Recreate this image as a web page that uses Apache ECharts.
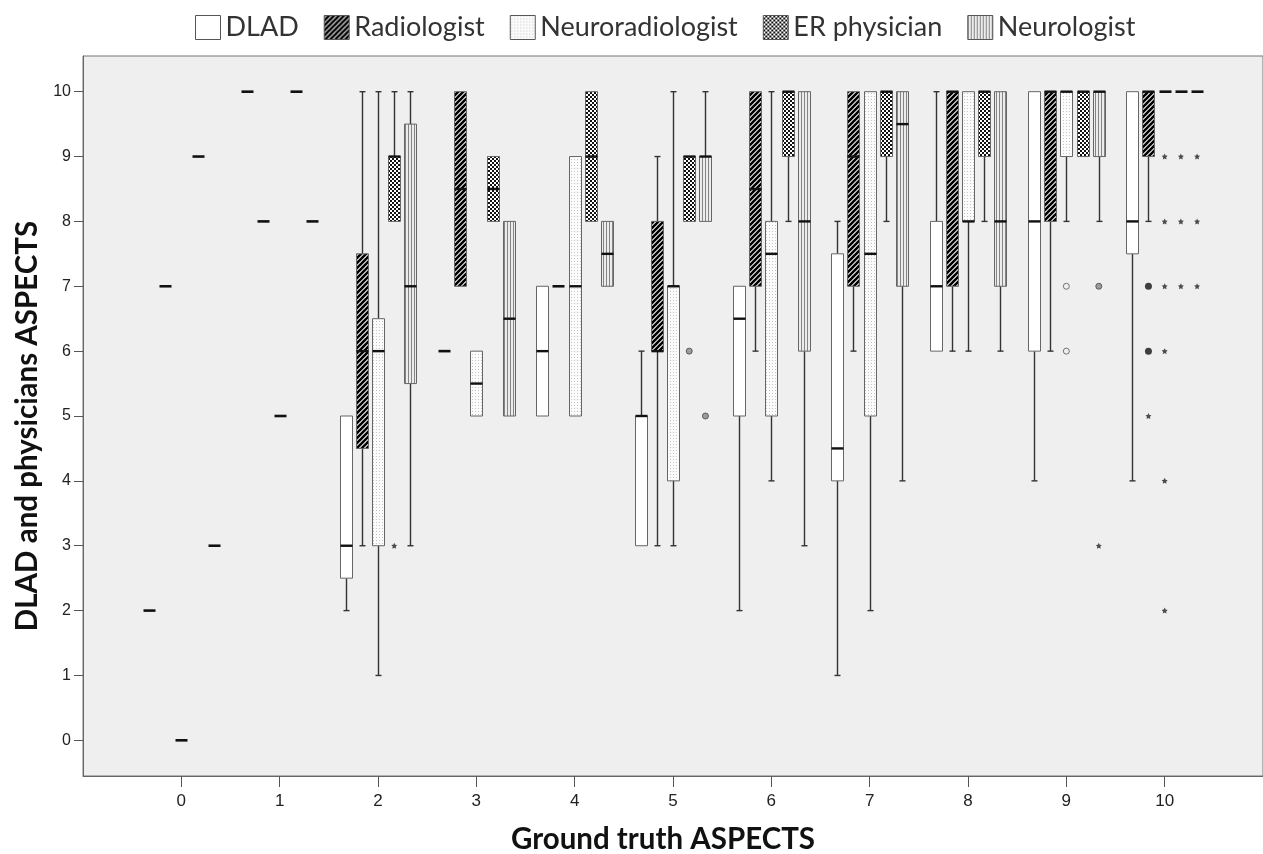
<!DOCTYPE html>
<html><head><meta charset="utf-8">
<script src="https://cdn.jsdelivr.net/npm/echarts@6/dist/echarts.min.js"></script>
<style>html,body{margin:0;padding:0;background:#fff}#chart{width:1263px;height:854px}</style>
</head><body><div id="chart"></div>
<script>
// Ground-truth ASPECTS categories (x axis)
const categories = [0, 1, 2, 3, 4, 5, 6, 7, 8, 9, 10];
const yTicks = [0, 1, 2, 3, 4, 5, 6, 7, 8, 9, 10];
const raters = ['DLAD', 'Radiologist', 'Neuroradiologist', 'ER physician', 'Neurologist'];

// [min, q1, median, q3, max] for each ground-truth category
const dlad = [
  [2, 2, 2, 2, 2], [10, 10, 10, 10, 10], [2, 2.5, 3, 5, 5], [6, 6, 6, 6, 6],
  [5, 5, 6, 7, 7], [3, 3, 5, 5, 6], [2, 5, 6.5, 7, 7], [1, 4, 4.5, 7.5, 8],
  [6, 6, 7, 8, 10], [4, 6, 8, 10, 10], [4, 7.5, 8, 10, 10]
];
const radiologist = [
  [7, 7, 7, 7, 7], [8, 8, 8, 8, 8], [3, 4.5, 6, 7.5, 10], [7, 7, 8.5, 10, 10],
  [7, 7, 7, 7, 7], [3, 6, 6, 8, 9], [6, 7, 8.5, 10, 10], [6, 7, 9, 10, 10],
  [6, 7, 10, 10, 10], [6, 8, 10, 10, 10], [8, 9, 10, 10, 10]
];
const neuroradiologist = [
  [0, 0, 0, 0, 0], [5, 5, 5, 5, 5], [1, 3, 6, 6.5, 10], [5, 5, 5.5, 6, 6],
  [5, 5, 7, 9, 9], [3, 4, 7, 7, 10], [4, 5, 7.5, 8, 10], [2, 5, 7.5, 10, 10],
  [6, 8, 8, 10, 10], [8, 9, 10, 10, 10], [10, 10, 10, 10, 10]
];
const erPhysician = [
  [9, 9, 9, 9, 9], [10, 10, 10, 10, 10], [8, 8, 9, 9, 10], [8, 8, 8.5, 9, 9],
  [8, 8, 9, 10, 10], [8, 8, 9, 9, 9], [8, 9, 10, 10, 10], [8, 9, 10, 10, 10],
  [8, 9, 10, 10, 10], [9, 9, 10, 10, 10], [10, 10, 10, 10, 10]
];
const neurologist = [
  [3, 3, 3, 3, 3], [8, 8, 8, 8, 8], [3, 5.5, 7, 9.5, 10], [5, 5, 6.5, 8, 8],
  [7, 7, 7.5, 8, 8], [8, 8, 9, 9, 10], [3, 6, 8, 10, 10], [4, 7, 9.5, 10, 10],
  [6, 7, 8, 10, 10], [8, 9, 10, 10, 10], [10, 10, 10, 10, 10]
];
const boxData = [dlad, radiologist, neuroradiologist, erPhysician, neurologist];

// outliers: [rater index, category, value]
const outlierOpen = [[2, 9, 7], [2, 9, 6]];
const outlierDot = [[3, 5, 6], [4, 5, 5], [4, 9, 7]];
const outlierFilled = [[1, 10, 7], [1, 10, 6]];
const outlierStar = [
  [3, 2, 3], [4, 9, 3], [1, 10, 5],
  [2, 10, 9], [2, 10, 8], [2, 10, 7], [2, 10, 6], [2, 10, 4], [2, 10, 2],
  [3, 10, 9], [3, 10, 8], [3, 10, 7],
  [4, 10, 9], [4, 10, 8], [4, 10, 7]
];

// ---- styling ----
const OFFSETS = [-0.33, -0.165, 0, 0.165, 0.33];
const HALF_W = 6;
function makePattern(w, h, draw) {
  const c = document.createElement('canvas');
  c.width = w; c.height = h;
  draw(c.getContext('2d'));
  return { image: c, repeat: 'repeat' };
}
const fills = [
  '#ffffff',
  makePattern(5, 5, g => {
    g.fillStyle = '#fff'; g.fillRect(0, 0, 5, 5);
    g.strokeStyle = '#000'; g.lineWidth = 2.6; g.beginPath();
    g.moveTo(-1, 6); g.lineTo(6, -1);
    g.moveTo(-1, 1); g.lineTo(1, -1);
    g.moveTo(4, 6); g.lineTo(6, 4);
    g.stroke();
  }),
  makePattern(3, 3, g => {
    g.fillStyle = '#fbfbfb'; g.fillRect(0, 0, 3, 3);
    g.fillStyle = '#c4c4c4'; g.fillRect(1, 0, 1, 1);
  }),
  makePattern(4, 4, g => {
    g.fillStyle = '#111'; g.fillRect(0, 0, 4, 4);
    g.fillStyle = '#fff'; g.fillRect(0, 0, 2, 2); g.fillRect(2, 2, 2, 2);
  }),
  makePattern(3, 1, g => {
    g.fillStyle = '#ececec'; g.fillRect(0, 0, 3, 1);
    g.fillStyle = '#858585'; g.fillRect(0, 0, 1, 1);
  })
];

function renderBox(params, api) {
  const si = params.seriesIndex;
  const cat = api.value(0);
  const mn = api.value(1), q1 = api.value(2), md = api.value(3), q3 = api.value(4), mx = api.value(5);
  const cx = Math.round(api.coord([cat + OFFSETS[si], 0])[0]) + 0.5;
  const Y = v => api.coord([cat, v])[1];
  const ch = [];
  if (mn === mx) {
    ch.push({ type: 'line', shape: { x1: cx - HALF_W, y1: Y(md), x2: cx + HALF_W, y2: Y(md) },
      style: { stroke: '#111', lineWidth: 2.6 } });
    return { type: 'group', children: ch };
  }
  const ws = { stroke: '#333', lineWidth: 1.4 };
  if (mx > q3) {
    ch.push({ type: 'line', shape: { x1: cx, y1: Y(q3), x2: cx, y2: Y(mx) }, style: ws });
    ch.push({ type: 'line', shape: { x1: cx - 3, y1: Y(mx), x2: cx + 3, y2: Y(mx) }, style: ws });
  }
  if (mn < q1) {
    ch.push({ type: 'line', shape: { x1: cx, y1: Y(q1), x2: cx, y2: Y(mn) }, style: ws });
    ch.push({ type: 'line', shape: { x1: cx - 3, y1: Y(mn), x2: cx + 3, y2: Y(mn) }, style: ws });
  }
  ch.push({ type: 'rect', shape: { x: cx - HALF_W, y: Y(q3), width: HALF_W * 2, height: Y(q1) - Y(q3) },
    style: { fill: fills[si], stroke: '#666', lineWidth: 1 } });
  ch.push({ type: 'line', shape: { x1: cx - HALF_W, y1: Y(md), x2: cx + HALF_W, y2: Y(md) },
    style: { stroke: '#111', lineWidth: 2.4 } });
  return { type: 'group', children: ch };
}

const series = raters.map((name, i) => ({
  name, type: 'custom', renderItem: renderBox,
  dimensions: ['cat', 'min', 'q1', 'median', 'q3', 'max'],
  encode: { x: 0, y: [1, 2, 3, 4, 5] },
  itemStyle: { color: fills[i] },
  data: boxData[i].map((r, k) => [categories[k]].concat(r)),
  z: 2, silent: true
}));
const toXY = arr => arr.map(d => [d[1] + OFFSETS[d[0]], d[2]]);
series.push({ name: 'o-open', type: 'scatter', symbol: 'circle', symbolSize: 6,
  itemStyle: { color: 'rgba(0,0,0,0)', borderColor: '#555', borderWidth: 1 }, data: toXY(outlierOpen), z: 5, silent: true });
series.push({ name: 'o-dot', type: 'scatter', symbol: 'circle', symbolSize: 6,
  itemStyle: { color: '#888', borderColor: '#444', borderWidth: 1 }, data: toXY(outlierDot), z: 5, silent: true });
series.push({ name: 'o-filled', type: 'scatter', symbol: 'circle', symbolSize: 7,
  itemStyle: { color: '#111' }, data: toXY(outlierFilled), z: 5, silent: true });
series.push({ name: 'o-star', type: 'scatter',
  symbol: 'path://M0,-10L2.9,-4L9.5,-3L4.7,1.5L5.9,8.1L0,5L-5.9,8.1L-4.7,1.5L-9.5,-3L-2.9,-4Z',
  symbolSize: 6, itemStyle: { color: '#222' }, data: toXY(outlierStar), z: 5, silent: true });

const chart = echarts.init(document.getElementById('chart'), null, { renderer: 'canvas' });
chart.setOption({
  animation: false,
  backgroundColor: '#fff',
  legend: {
    top: 9, left: 190, itemWidth: 25, itemHeight: 24, itemGap: 25, icon: 'rect',
    selectedMode: false,
    textStyle: { fontFamily: 'Lato', fontSize: 27, color: '#333' },
    data: raters.map((n, i) => ({ name: n, itemStyle: { color: fills[i], borderColor: '#555', borderWidth: 1 } }))
  },
  grid: { left: 83, right: 0, top: 56, bottom: 78, containLabel: false, outerBoundsMode: 'none',
    show: true, backgroundColor: '#efefef', borderColor: '#777', borderWidth: 1 },
  xAxis: {
    type: 'value', min: -1, max: 11,
    name: 'Ground truth ASPECTS', nameLocation: 'middle', nameGap: 48,
    nameTextStyle: { fontFamily: 'Lato', fontWeight: 'bold', fontSize: 29.5, color: '#111', padding: [0, 20, 0, 0] },
    axisLine: { show: true, onZero: false, lineStyle: { color: '#666' } },
    axisTick: { show: true, inside: false, length: 11, customValues: categories, lineStyle: { color: '#555' } },
    axisLabel: { customValues: categories, margin: 17, fontFamily: 'Liberation Sans', fontSize: 17, color: '#222' },
    splitLine: { show: false }
  },
  yAxis: {
    type: 'value', min: -0.55, max: 10.55,
    name: 'DLAD and physicians ASPECTS', nameLocation: 'middle', nameGap: 39, nameRotate: 90,
    nameTextStyle: { fontFamily: 'Lato', fontWeight: 'bold', fontSize: 29.5, color: '#111', padding: [0, 20, 0, 0] },
    axisLine: { show: true, onZero: false, lineStyle: { color: '#666' } },
    axisTick: { show: true, inside: false, length: 9, customValues: yTicks, lineStyle: { color: '#555' } },
    axisLabel: { customValues: yTicks, margin: 12, fontFamily: 'Liberation Sans', fontSize: 16, color: '#222' },
    splitLine: { show: false }
  },
  series
});
</script></body></html>
